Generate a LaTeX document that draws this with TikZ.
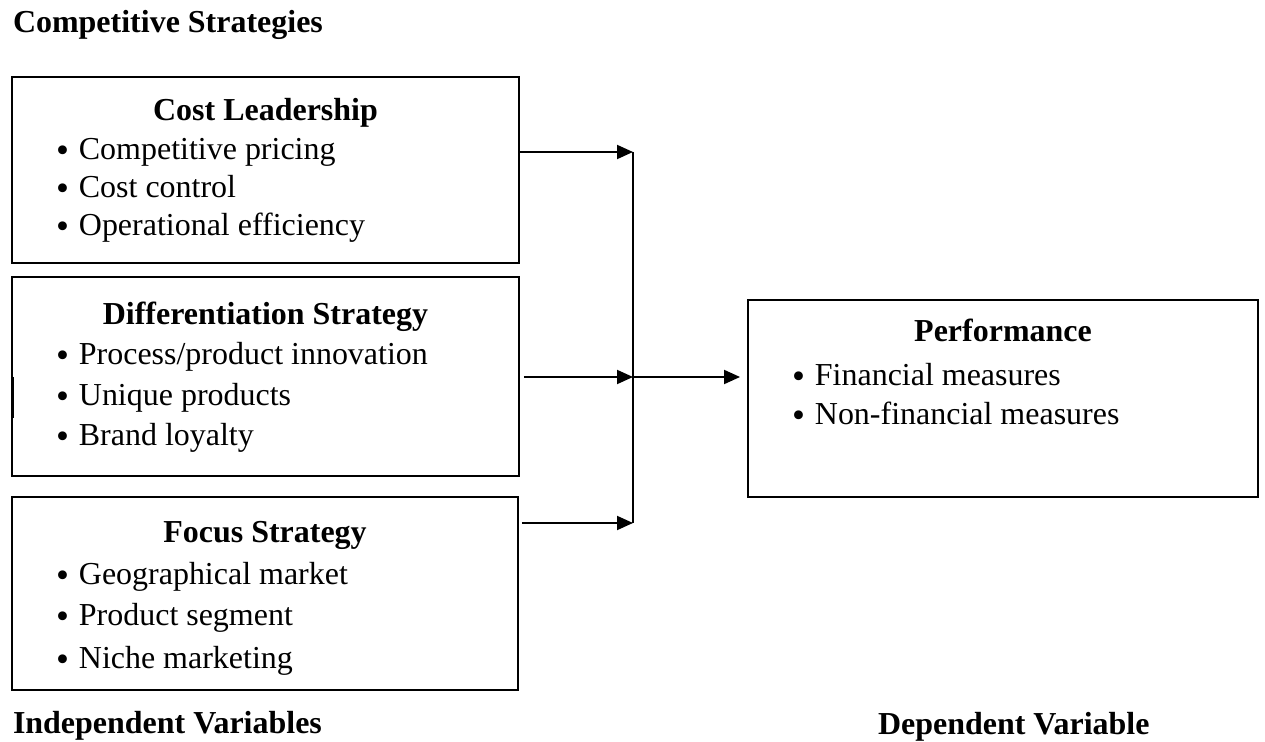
\documentclass[tikz,border=0pt]{standalone}
\usepackage{fontspec}
\setmainfont{Liberation Serif}
\usetikzlibrary{arrows.meta}
\newcommand{\itm}{\raisebox{-1.6pt}{\fontsize{21}{21}\selectfont\textbullet}\hspace{0.2cm}}

\begin{document}
\begin{tikzpicture}[x=0.02cm,y=-0.02cm]
  \tikzstyle{every node}=[font=\fontsize{18.2}{22}\selectfont, inner sep=0pt, outer sep=0pt]
  \tikzstyle{box}=[draw, line width=1.1pt, rectangle]
  \tikzstyle{head}=[font=\fontsize{18.2}{22}\selectfont\bfseries, anchor=base]
  \tikzstyle{item}=[anchor=base west]
  \tikzstyle{link}=[line width=1.1pt, -{Triangle[length=0.32cm,width=0.28cm]}]
  \useasboundingbox (0,0) rectangle (1265,742);
  % headings
  \node[head, anchor=base west] (CS) at (13,33) {Competitive Strategies};
  \node[head, anchor=base west] (IV) at (13,734) {Independent Variables};
  \node[head, anchor=base west] (DV) at (878,735) {Dependent Variable};
  % boxes
  \node[box, minimum width=10.14cm, minimum height=3.72cm] (CL) at (265.5,170) {};
  \node[box, minimum width=10.14cm, minimum height=3.98cm] (DS) at (265.5,376.5) {};
  \node[box, minimum width=10.12cm, minimum height=3.86cm] (FS) at (265,593.5) {};
  \node[box, minimum width=10.2cm, minimum height=3.94cm] (PF) at (1003,398.5) {};
  \draw[line width=0.8pt] (13.5,377) -- (13.5,418);
  % cost leadership
  \node[head] (CLt) at (265.5,121) {Cost Leadership};
  \node[item] (CL1) at (56,160) {\itm Competitive pricing};
  \node[item] (CL2) at (56,198) {\itm Cost control};
  \node[item] (CL3) at (56,236) {\itm Operational efficiency};
  % differentiation
  \node[head] (DSt) at (265.5,325) {Differentiation Strategy};
  \node[item] (DS1) at (56,365) {\itm Process/product innovation};
  \node[item] (DS2) at (56,406) {\itm Unique products};
  \node[item] (DS3) at (56,446) {\itm Brand loyalty};
  % focus
  \node[head] (FSt) at (265,543) {Focus Strategy};
  \node[item] (FS1) at (56,585) {\itm Geographical market};
  \node[item] (FS2) at (56,626) {\itm Product segment};
  \node[item] (FS3) at (56,669) {\itm Niche marketing};
  % performance
  \node[head] (PFt) at (1003,342) {Performance};
  \node[item] (PF1) at (792,386) {\itm Financial measures};
  \node[item] (PF2) at (792,425) {\itm Non-financial measures};
  % connectors
  \coordinate (J1) at (633,152);
  \coordinate (J2) at (633,377);
  \coordinate (J3) at (633,523);
  \draw[line width=1.1pt] (J1) -- (J3);
  \draw[link] (CL.east |- J1) -- (J1);
  \draw[link] ([xshift=0.1cm]DS.east |- J2) -- (J2);
  \draw[link] ([xshift=0.08cm]FS.east |- J3) -- (J3);
  \draw[link, shorten >=0.16cm] (J2) -- (PF.west |- J2);
\end{tikzpicture}
\end{document}
